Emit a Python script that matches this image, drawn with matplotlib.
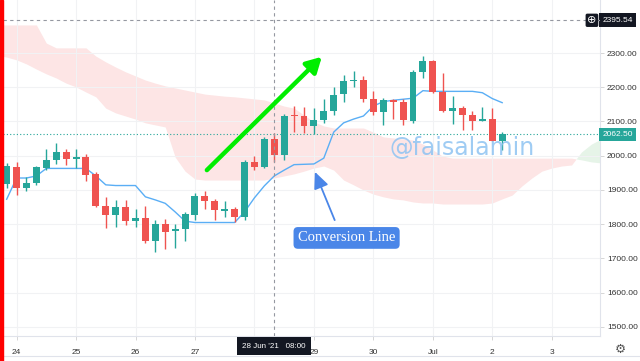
import matplotlib
matplotlib.use("Agg")
import matplotlib.pyplot as plt
from matplotlib.patches import Rectangle
import numpy as np

# 4h candles, first one is 23 Jun 20:00 (index 0)
opens = [1917, 1967, 1906, 1920, 1965, 1987, 2012, 1990, 1996, 1946,
         1852, 1828, 1851, 1809, 1819, 1752, 1802, 1779, 1785, 1828,
         1882, 1867, 1840, 1844, 1822, 1983, 1967, 2049, 2001, 2119,
         2116, 2086, 2104, 2131, 2179, 2218, 2221, 2167, 2127, 2162,
         2156, 2102, 2244, 2277, 2185, 2131, 2139, 2119, 2101, 2107,
         2042]
highs = [1979, 1982, 1938, 1970, 2020, 2037, 2021, 2021, 2005, 1952,
         1880, 1870, 1871, 1844, 1852, 1812, 1815, 1801, 1837, 1891,
         1897, 1874, 1868, 1849, 1987, 1999, 2056, 2067, 2121, 2146,
         2143, 2138, 2167, 2202, 2236, 2247, 2233, 2189, 2168, 2165,
         2166, 2250, 2291, 2280, 2241, 2175, 2146, 2131, 2141, 2138,
         2069]
lows = [1906, 1885, 1897, 1915, 1958, 1977, 1973, 1964, 1927, 1850,
        1790, 1793, 1798, 1793, 1744, 1718, 1729, 1730, 1752, 1812,
        1844, 1812, 1822, 1806, 1812, 1958, 1963, 1983, 1988, 2070,
        2065, 2063, 2095, 2119, 2158, 2202, 2158, 2119, 2090, 2106,
        2090, 2095, 2226, 2182, 2128, 2093, 2075, 2075, 2101, 2042,
        2017]
closes = [1970, 1906, 1920, 1966, 1988, 2012, 1990, 1996, 1944, 1853,
          1828, 1851, 1809, 1819, 1752, 1802, 1778, 1786, 1830, 1882,
          1867, 1841, 1844, 1822, 1983, 1967, 2049, 2002, 2117, 2116,
          2086, 2104, 2131, 2177, 2218, 2221, 2165, 2127, 2162, 2156,
          2104, 2244, 2277, 2185, 2131, 2139, 2119, 2101, 2107, 2042,
          2062.5]

conversion = [1873, 1935, 1935, 1941, 1963, 1963, 1963, 1963, 1963, 1941,
              1915, 1913, 1913, 1913, 1880, 1871, 1861, 1836, 1809, 1805,
              1805, 1805, 1805, 1805, 1836, 1877, 1912, 1941, 1958, 1974,
              1975, 1976, 1993, 2069, 2096, 2107, 2116, 2145, 2158, 2162,
              2165, 2168, 2190, 2188, 2188, 2188, 2188, 2188, 2184, 2167,
              2155]

# cloud, from index -1 to 60
span_b = [2382, 2382, 2382, 2382, 2382, 2329, 2315, 2315, 2315, 2315,
          2291, 2274, 2259, 2245, 2233, 2221, 2212, 2204, 2198, 2192,
          2186, 2180, 2177, 2174, 2172, 2169, 2166, 2163, 2154, 2145,
          2139, 2119, 2099, 2087, 2081, 2081, 2081, 2081, 2069, 2055,
          2052, 2049, 2046, 2034, 2017, 1999, 1993, 1993, 1993, 1993,
          1993, 1993, 1993, 1993, 1993, 1993, 1993, 1993, 1993, 1988,
          1982, 1979]
span_a = [2294, 2288, 2280, 2268, 2253, 2239, 2227, 2212, 2201, 2186,
          2172, 2139, 2125, 2116, 2107, 2096, 2090, 2084, 1996, 1955,
          1932, 1929, 1929, 1929, 1929, 1929, 1929, 1929, 1935, 1941,
          1947, 1955, 1964, 1970, 1958, 1929, 1915, 1900, 1888, 1880,
          1874, 1871, 1865, 1862, 1862, 1859, 1859, 1859, 1859, 1859,
          1862, 1874, 1885, 1912, 1935, 1955, 1964, 1970, 1973, 2011,
          2034, 2049]

day_idx = [1, 7, 13, 19, 25, 31, 37, 43, 49, 55]
day_labels = ['24', '25', '26', '27', '28', '29', '30', 'Jul', '2', '3']
price_ticks = [1500, 1600, 1700, 1800, 1900, 2000, 2100, 2200, 2300]

last_price = 2062.50
cross_price = 2395.54
cross_idx = 27

UP = '#26a69a'
DOWN = '#ef5350'

fig = plt.figure(figsize=(6.4, 3.61), dpi=100)
ax = fig.add_axes([3 / 640, 1 - 336 / 361, 597 / 640, 336 / 361])

o = np.array(opens)
c = np.array(closes)
h = np.array(highs)
l = np.array(lows)
idx = np.arange(len(o))
cols = np.where(c >= o, UP, DOWN)

ck = np.arange(-1, len(span_a) - 1)
sa = np.array(span_a)
sb = np.array(span_b)
ax.fill_between(ck, sa, sb, where=sb >= sa, interpolate=True,
                color='#fde5e5', lw=0, zorder=1)
ax.fill_between(ck, sa, sb, where=sa >= sb, interpolate=True,
                color='#e6f4e8', lw=0, zorder=1)

ax.plot(idx, conversion, color='#5aaef5', lw=1, zorder=3)

ax.vlines(idx, l, h, colors=cols, lw=1, zorder=4)
ax.bar(idx, np.abs(c - o), bottom=np.minimum(o, c), width=0.7,
       color=cols, zorder=5)

ax.axhline(last_price, color=UP, lw=0.8, ls=(0, (1, 2)), zorder=2)
ax.axhline(cross_price, color='#9598a1', lw=0.8, ls=(0, (3, 3)), zorder=6)
ax.axvline(cross_idx, color='#9598a1', lw=0.8, ls=(0, (3, 3)), zorder=6)

ax.set_xlim(-0.37, 59.87)
ax.set_ylim(1473.6, 2454.8)

ax.set_xticks(day_idx)
ax.set_xticklabels(day_labels)
ax.set_yticks(price_ticks)
ax.set_yticklabels(['%.2f' % p for p in price_ticks], family='Liberation Sans')
ax.yaxis.tick_right()
ax.tick_params(axis='both', labelsize=6, colors='#d0d0d0', labelcolor='#333333',
               length=3, width=0.6)
ax.tick_params(axis='y', pad=2)
ax.tick_params(axis='x', pad=6)
for t in ax.get_xticklabels():
    t.set_family('Liberation Sans')
ax.grid(True, color='#f1f2f4', lw=0.8, zorder=0)
for s in ['top', 'left']:
    ax.spines[s].set_visible(False)
ax.spines['right'].set_color('#e0e3eb')
ax.spines['bottom'].set_color('#e0e3eb')
ax.spines['right'].set_linewidth(0.8)
ax.spines['bottom'].set_linewidth(0.8)

# price labels on the right axis
yt = ax.get_yaxis_transform()
ax.text(1.004, last_price, '2062.50', transform=yt, ha='left', va='center',
        fontsize=6, family='Liberation Sans', color='white', clip_on=False,
        bbox=dict(boxstyle='square,pad=0.4', fc=UP, ec='none'))
ax.text(1.004, cross_price, '2395.54', transform=yt, ha='left', va='center',
        fontsize=6, family='Liberation Sans', color='white', clip_on=False,
        bbox=dict(boxstyle='square,pad=0.4', fc='#131722', ec='none'))
ax.text(0.9865, cross_price, '⊕', transform=yt, ha='center', va='center',
        fontsize=8, color='white', zorder=7,
        bbox=dict(boxstyle='round,pad=0.15', fc='#131722', ec='none'))

# crosshair time label
xt = ax.get_xaxis_transform()
ax.text(cross_idx, -0.03, "28 Jun '21   08:00", transform=xt, ha='center',
        va='center', fontsize=5.8, family='Liberation Sans', color='white',
        clip_on=False, zorder=10,
        bbox=dict(boxstyle='square,pad=0.65', fc='#131722', ec='none'))

# annotations
ax.annotate('', xy=(31.8, 2289), xytext=(20.2, 1958),
            arrowprops=dict(arrowstyle='-|>,head_length=0.9,head_width=0.5',
                            color='#00ee00', lw=3.2, shrinkA=0, shrinkB=0),
            zorder=8)
ax.annotate('', xy=(31.1, 1953), xytext=(33.1, 1812),
            arrowprops=dict(arrowstyle='-|>,head_length=1.0,head_width=0.45',
                            color='#4a86e8', lw=1.3, shrinkA=0, shrinkB=0),
            zorder=8)
ax.text(34.3, 1760, 'Conversion Line', ha='center', va='center',
        fontsize=10.5, family='Liberation Serif', color='white', zorder=9,
        bbox=dict(boxstyle='round,pad=0.3,rounding_size=0.3', fc='#4a86e8',
                  ec='none'))
ax.text(46.0, 2023, '@faisalamin', ha='center', va='center', fontsize=17,
        color='#8ec3f2', alpha=0.85, zorder=7)

# chrome
fig.patches.append(Rectangle((0, 0), 3 / 640, 1, transform=fig.transFigure,
                             color='#ff0000', zorder=10))
fig.text(620 / 640, 1 - 349 / 361, '⚙', ha='center', va='center',
         fontsize=9, color='#555555')
fig.add_artist(plt.Line2D([0, 1], [1 - 356 / 361] * 2, color='#e0e3eb', lw=0.8))

fig.savefig('out.png', dpi=100)
